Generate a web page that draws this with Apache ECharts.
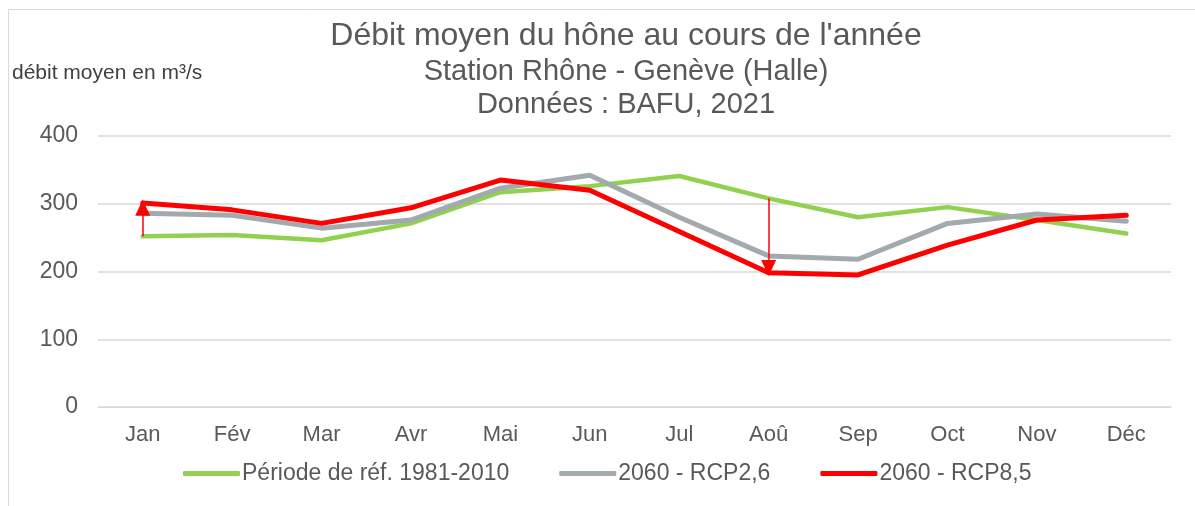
<!DOCTYPE html>
<html>
<head>
<meta charset="utf-8">
<script src="https://cdn.jsdelivr.net/npm/echarts@6/dist/echarts.min.js"></script>
<style>
  html, body { margin: 0; padding: 0; background: #fff; }
  #main { width: 1195px; height: 506px; }
</style>
</head>
<body>
<div id="main"></div>
<script>
// données
var months = ["Jan", "Fév", "Mar", "Avr", "Mai", "Jun", "Jul", "Aoû", "Sep", "Oct", "Nov", "Déc"];
var reference = [252, 254, 246, 271, 317, 326, 341, 308, 280, 295, 276, 256];
var rcp26 = [286, 283, 264, 276, 323, 342, 280, 223, 218, 271, 285, 274];
var rcp85 = [301, 291, 271, 294, 335, 320, 259, 198, 195, 239, 276, 283];
var yTicks = [0, 100, 200, 300, 400];

var chart = echarts.init(document.getElementById("main"));
var textColor = "#595959";
var font = "Liberation Sans, Arial, sans-serif";

function arrow(month, from, to) {
  return [{ coord: [month, from] }, { coord: [month, to] }];
}

var option = {
  animation: false,
  textStyle: { fontFamily: font },
  title: [
    {
      text: "Débit moyen du hône au cours de l'année",
      left: 621,
      top: 15,
      textAlign: "center",
      textStyle: { color: textColor, fontSize: 32, fontWeight: "normal" }
    },
    {
      text: "Station Rhône - Genève (Halle)\nDonnées : BAFU, 2021",
      left: 621,
      top: 50,
      textAlign: "center",
      textStyle: { color: textColor, fontSize: 29, fontWeight: "normal", lineHeight: 33 }
    }
  ],
  graphic: [
    {
      type: "rect",
      shape: { x: 8.5, y: 9.5, width: 1200, height: 520 },
      style: { fill: "none", stroke: "#d9d9d9", lineWidth: 1 },
      silent: true
    },
    {
      type: "text",
      left: 12,
      top: 63,
      style: { text: "débit moyen en m³/s", fill: "#404040", font: "21px " + font }
    }
  ],
  legend: {
    bottom: 16,
    left: 178,
    itemWidth: 57,
    itemHeight: 5,
    itemGap: 50,
    icon: "roundRect",
    textStyle: { color: textColor, fontSize: 23, padding: [0, 0, 0, -3] },
    data: ["Période de réf. 1981-2010", "2060 - RCP2,6", "2060 - RCP8,5"]
  },
  grid: { left: 98, right: 24, top: 136, bottom: 99 },
  xAxis: {
    type: "category",
    data: months,
    boundaryGap: true,
    axisLine: { show: true, lineStyle: { color: "#d9d9d9" } },
    axisTick: { show: false },
    axisLabel: { color: textColor, fontSize: 22, margin: 17 }
  },
  yAxis: {
    type: "value",
    min: yTicks[0],
    max: yTicks[yTicks.length - 1],
    interval: 100,
    axisLine: { show: false },
    axisTick: { show: false },
    axisLabel: { color: textColor, fontSize: 23, margin: 20 },
    splitLine: { lineStyle: { color: "#d9d9d9", width: 1.5 } }
  },
  series: [
    {
      name: "Période de réf. 1981-2010",
      type: "line",
      data: reference,
      symbol: "none",
      color: "#92D050",
      lineStyle: { width: 4.5, color: "#92D050", cap: "round" },
      markLine: {
        silent: true,
        symbol: ["none", "triangle"],
        symbolSize: [15, 16],
        label: { show: false },
        lineStyle: { color: "#FF0000", width: 1.5, type: "solid" },
        data: [arrow("Jan", 252, 294), arrow("Aoû", 308, 205)]
      }
    },
    {
      name: "2060 - RCP2,6",
      type: "line",
      data: rcp26,
      symbol: "none",
      color: "#A2AAAD",
      lineStyle: { width: 5, color: "#A2AAAD", cap: "round" }
    },
    {
      name: "2060 - RCP8,5",
      type: "line",
      data: rcp85,
      symbol: "none",
      color: "#FF0000",
      lineStyle: { width: 5, color: "#FF0000", cap: "round" }
    }
  ]
};

chart.setOption(option);
</script>
</body>
</html>
